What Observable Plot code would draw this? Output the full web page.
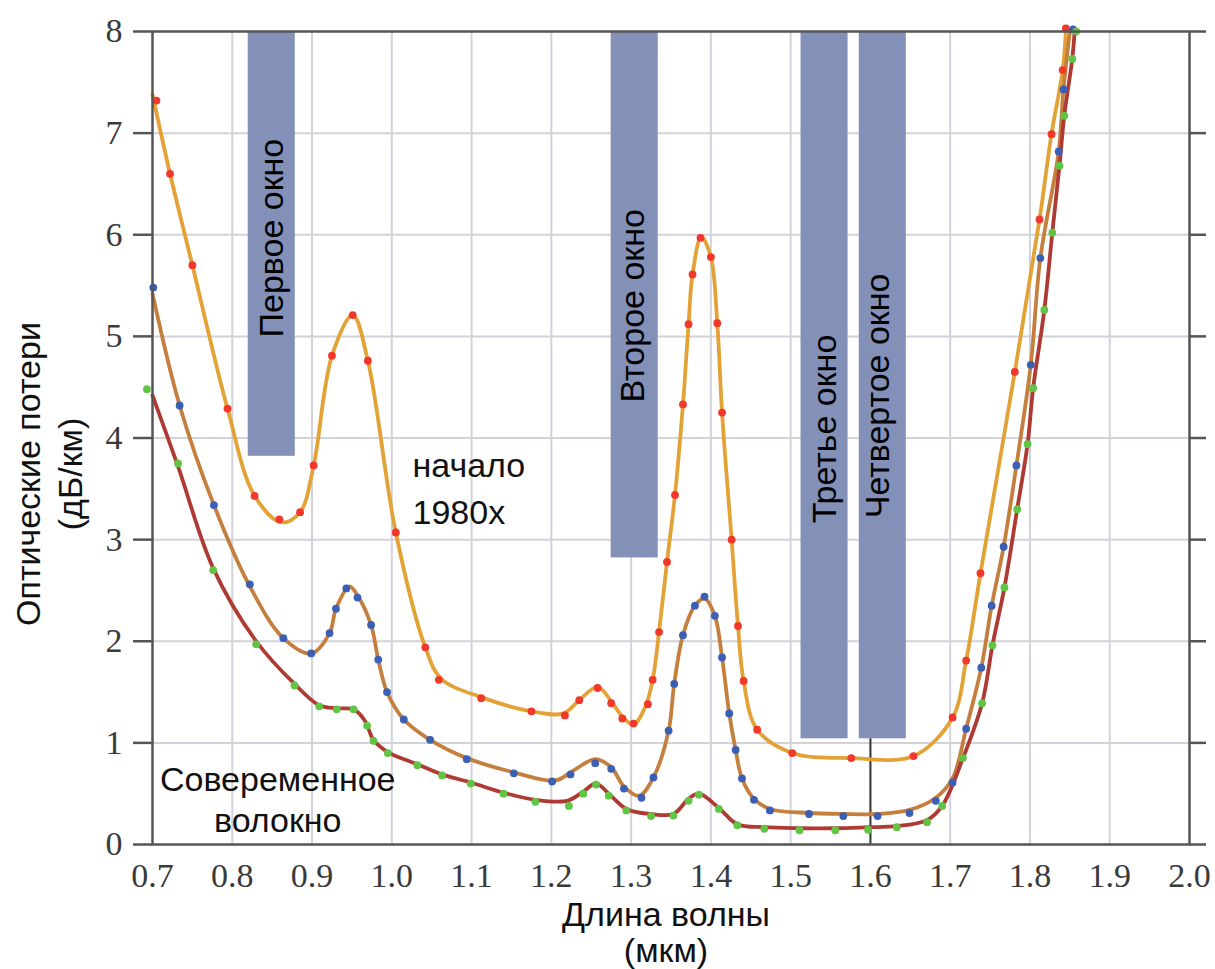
<!DOCTYPE html>
<html>
<head>
<meta charset="utf-8">
<script src="https://cdn.jsdelivr.net/npm/d3@7"></script>
<script src="https://cdn.jsdelivr.net/npm/@observablehq/plot@0.6"></script>
<style>
  html, body { margin: 0; padding: 0; background: #fff; }
</style>
</head>
<body>
<div id="chart"></div>
<script>
// ---- Data (wavelength in µm, loss in dB/km) ----
// Early 1980s fibre: measured points (red dots)
const earlyDots = [
  [0.705,7.32],[0.722,6.60],[0.750,5.70],[0.794,4.29],[0.828,3.43],[0.859,3.20],[0.885,3.27],
  [0.902,3.73],[0.925,4.81],[0.951,5.21],[0.970,4.76],[1.005,3.07],[1.042,1.94],[1.059,1.62],
  [1.112,1.44],[1.175,1.31],[1.217,1.27],[1.235,1.42],[1.258,1.54],[1.275,1.39],[1.289,1.24],
  [1.303,1.19],[1.321,1.38],[1.327,1.62],[1.335,2.09],[1.345,2.78],[1.355,3.44],[1.365,4.33],
  [1.372,5.12],[1.377,5.61],[1.387,5.97],[1.400,5.78],[1.408,5.13],[1.414,4.25],[1.426,3.00],
  [1.434,2.15],[1.441,1.61],[1.458,1.13],[1.502,0.90],[1.576,0.85],[1.654,0.87],[1.703,1.25],
  [1.720,1.81],[1.738,2.67],[1.781,4.65],[1.812,6.15],[1.827,6.99],[1.841,7.62],[1.845,8.03]
];
// Early 1980s fibre: fitted curve
const earlyCurve = [
  [0.700,7.38],[0.722,6.60],[0.750,5.70],[0.794,4.29],[0.828,3.43],[0.862,3.17],[0.885,3.27],
  [0.902,3.73],[0.925,4.81],[0.951,5.21],[0.970,4.76],[1.005,3.07],[1.042,1.94],[1.062,1.63],
  [1.112,1.45],[1.175,1.31],[1.215,1.29],[1.235,1.42],[1.258,1.55],[1.275,1.41],[1.289,1.26],
  [1.303,1.18],[1.318,1.36],[1.327,1.62],[1.335,2.09],[1.345,2.78],[1.355,3.44],[1.365,4.33],
  [1.372,5.12],[1.377,5.61],[1.388,5.98],[1.400,5.78],[1.408,5.13],[1.414,4.25],[1.426,3.00],
  [1.434,2.15],[1.441,1.61],[1.458,1.13],[1.502,0.90],[1.576,0.85],[1.654,0.87],[1.703,1.25],
  [1.720,1.81],[1.738,2.67],[1.781,4.65],[1.812,6.15],[1.827,6.99],[1.841,7.62],[1.845,8.00]
];
// Intermediate fibre: measured points (blue dots)
const midDots = [
  [0.701,5.48],[0.734,4.32],[0.777,3.34],[0.822,2.56],[0.864,2.03],[0.899,1.88],[0.922,2.08],
  [0.930,2.32],[0.943,2.52],[0.957,2.43],[0.974,2.16],[0.983,1.82],[0.994,1.50],[1.015,1.23],
  [1.048,1.03],[1.094,0.84],[1.153,0.70],[1.201,0.62],[1.224,0.69],[1.255,0.80],[1.275,0.745],
  [1.291,0.55],[1.313,0.46],[1.328,0.66],[1.347,1.12],[1.354,1.58],[1.365,2.06],[1.380,2.35],
  [1.392,2.44],[1.405,2.25],[1.414,1.84],[1.423,1.29],[1.431,0.93],[1.439,0.65],[1.454,0.44],
  [1.474,0.335],[1.523,0.30],[1.566,0.28],[1.609,0.28],[1.649,0.31],[1.682,0.43],[1.703,0.61],
  [1.720,1.14],[1.739,1.74],[1.752,2.35],[1.767,2.93],[1.783,3.73],[1.801,4.72],[1.813,5.77],
  [1.836,6.82],[1.842,7.43],[1.854,8.02]
];
const midCurve = [
  [0.700,5.42],[0.734,4.32],[0.777,3.34],[0.822,2.54],[0.864,2.03],[0.899,1.88],[0.922,2.08],
  [0.930,2.32],[0.947,2.54],[0.957,2.45],[0.974,2.16],[0.983,1.82],[0.994,1.50],[1.015,1.23],
  [1.048,1.03],[1.094,0.85],[1.153,0.71],[1.205,0.63],[1.228,0.73],[1.255,0.84],[1.275,0.76],
  [1.291,0.57],[1.310,0.48],[1.328,0.66],[1.347,1.12],[1.354,1.58],[1.365,2.06],[1.380,2.35],
  [1.392,2.42],[1.405,2.25],[1.414,1.84],[1.423,1.29],[1.431,0.93],[1.439,0.65],[1.454,0.45],
  [1.474,0.35],[1.523,0.31],[1.566,0.30],[1.609,0.30],[1.649,0.34],[1.682,0.46],[1.703,0.65],
  [1.720,1.14],[1.739,1.74],[1.752,2.35],[1.767,2.93],[1.783,3.73],[1.801,4.72],[1.813,5.77],
  [1.836,6.82],[1.842,7.43],[1.850,8.00]
];
// Modern fibre: measured points (green dots)
const modernDots = [
  [0.693,4.48],[0.732,3.75],[0.776,2.70],[0.830,1.97],[0.878,1.565],[0.909,1.36],[0.931,1.33],
  [0.952,1.33],[0.969,1.17],[0.977,1.02],[0.995,0.90],[1.032,0.78],[1.063,0.68],[1.099,0.60],
  [1.140,0.50],[1.180,0.42],[1.222,0.38],[1.240,0.50],[1.256,0.59],[1.272,0.48],[1.294,0.335],
  [1.325,0.28],[1.353,0.285],[1.372,0.43],[1.385,0.49],[1.410,0.35],[1.433,0.19],[1.467,0.155],
  [1.511,0.14],[1.556,0.14],[1.597,0.145],[1.633,0.17],[1.671,0.22],[1.690,0.38],[1.716,0.85],
  [1.740,1.39],[1.753,1.96],[1.768,2.53],[1.784,3.30],[1.797,3.94],[1.804,4.49],[1.818,5.26],
  [1.828,6.02],[1.837,6.68],[1.843,7.17],[1.853,7.73],[1.858,8.00]
];
const modernCurve = [
  [0.700,4.42],[0.732,3.72],[0.776,2.72],[0.830,2.00],[0.878,1.58],[0.909,1.37],[0.931,1.34],
  [0.952,1.33],[0.966,1.22],[0.977,1.03],[0.995,0.91],[1.032,0.79],[1.063,0.69],[1.099,0.61],
  [1.140,0.51],[1.180,0.44],[1.220,0.43],[1.240,0.52],[1.256,0.60],[1.272,0.50],[1.294,0.35],
  [1.325,0.30],[1.353,0.30],[1.372,0.45],[1.385,0.50],[1.410,0.36],[1.433,0.20],[1.467,0.17],
  [1.511,0.16],[1.556,0.16],[1.597,0.17],[1.633,0.18],[1.671,0.24],[1.690,0.38],[1.716,0.85],
  [1.740,1.39],[1.753,1.96],[1.768,2.53],[1.784,3.30],[1.797,3.94],[1.804,4.49],[1.818,5.26],
  [1.828,6.02],[1.837,6.68],[1.843,7.17],[1.853,7.73],[1.856,8.00]
];

// Transmission windows (wavelength range, loss range covered by the band)
const windowNames = ["Первое окно", "Второе окно", "Третье окно", "Четвертое окно"];
const windowStart = [0.820, 1.275, 1.513, 1.586];
const windowEnd   = [0.879, 1.334, 1.572, 1.645];
const windowLow   = [3.82, 2.82, 1.04, 1.04];
const windowHigh  = [8, 8, 8, 8];
const windowLabelX = [0.850, 1.302, 1.543, 1.610];
const windowLabelY = [4.99, 4.35, 3.16, 3.21];

// Marker at 1.6 µm below the fourth window
const markerX = [1.6];
const markerLow = [0];
const markerHigh = [1.04];

// Ticks
const xTicks = [0.7,0.8,0.9,1.0,1.1,1.2,1.3,1.4,1.5,1.6,1.7,1.8,1.9,2.0];
const yTicks = [0,1,2,3,4,5,6,7,8];

// Text
const yTitle = ["Оптические потери\n(дБ/км)"];
const xTitle = ["Длина волны\n(мкм)"];
const earlyLabel = [{text: "начало\n1980х", x: 1.026, y: 3.94}];
const modernLabel = [{text: "Совеременное\nволокно", x: 0.857, y: 0.81}];

// ---- Build ----
const windows = windowNames.map((name, i) => ({
  name, x1: windowStart[i], x2: windowEnd[i], y1: windowLow[i], y2: windowHigh[i],
  lx: windowLabelX[i], ly: windowLabelY[i]
}));
const markers = markerX.map((x, i) => ({x, y1: markerLow[i], y2: markerHigh[i]}));
const pt = arr => arr.map(([x, y]) => ({x, y}));

const SANS = "'Liberation Sans', Arial, Helvetica, sans-serif";
const SERIF = "'Liberation Serif', 'Times New Roman', serif";
const gridStyle = {stroke: "#d2d2da", strokeOpacity: 1, strokeWidth: 2};

const chart = Plot.plot({
  width: 1215,
  height: 969,
  marginLeft: 152,
  marginRight: 26,
  marginTop: 31,
  marginBottom: 125,
  x: {domain: [0.7, 2.0]},
  y: {domain: [0, 8]},
  style: {background: "#fff", overflow: "visible"},
  marks: [
    Plot.gridX(xTicks.slice(1, -1), gridStyle),
    Plot.gridY(yTicks.slice(1, -1), gridStyle),
    Plot.rect(windows, {x1: "x1", x2: "x2", y1: "y1", y2: "y2", fill: "#8391b9"}),
    Plot.ruleX(markers, {x: "x", y1: "y1", y2: "y2", stroke: "#3a3a3a", strokeWidth: 2}),
    Plot.text(windows, {
      x: "lx", y: "ly", text: "name", rotate: -90, textAnchor: "start", lineAnchor: "middle",
      fontSize: 34, fontFamily: SANS, fill: "#000"
    }),
    Plot.line(pt(earlyCurve), {x: "x", y: "y", curve: "catmull-rom", stroke: "#e3a236", strokeWidth: 3.8}),
    Plot.line(pt(midCurve), {x: "x", y: "y", curve: "catmull-rom", stroke: "#c47f3e", strokeWidth: 3.8}),
    Plot.line(pt(modernCurve), {x: "x", y: "y", curve: "catmull-rom", stroke: "#ae3a33", strokeWidth: 3.8}),
    Plot.dot(pt(earlyDots), {x: "x", y: "y", r: 3.9, fill: "#f2382a"}),
    Plot.dot(pt(midDots), {x: "x", y: "y", r: 3.9, fill: "#3c5fb6"}),
    Plot.dot(pt(modernDots), {x: "x", y: "y", r: 3.9, fill: "#62c445"}),
    Plot.text(earlyLabel, {
      x: "x", y: "y", text: "text", textAnchor: "start", lineAnchor: "top", lineHeight: 1.38,
      fontSize: 34, fontFamily: SANS, fill: "#111"
    }),
    Plot.text(modernLabel, {
      x: "x", y: "y", text: "text", textAnchor: "middle", lineAnchor: "top", lineHeight: 1.2,
      fontSize: 34, fontFamily: SANS, fill: "#111"
    }),
    Plot.frame({stroke: "#555", strokeWidth: 2.5}),
    Plot.axisY(yTicks, {
      anchor: "left", tickSize: 19, tickPadding: 11, strokeWidth: 2.5, stroke: "#555",
      fill: "#3a3a3a", fontSize: 34, fontFamily: SERIF, label: null, tickFormat: d => String(d)
    }),
    Plot.axisY(yTicks, {
      anchor: "right", tickSize: 16, strokeWidth: 2.5, stroke: "#555", label: null, tickFormat: () => ""
    }),
    Plot.axisX(xTicks, {
      anchor: "bottom", tickSize: 0, tickPadding: 18, fill: "#3a3a3a", fontSize: 34, fontFamily: SERIF,
      label: null, tickFormat: d => d.toFixed(1)
    }),
    Plot.text(yTitle, {
      frameAnchor: "left", text: d => d, rotate: -90, textAnchor: "middle", lineAnchor: "middle",
      lineHeight: 1.24, dx: -105, dy: 36, fontSize: 34, fontFamily: SANS, fill: "#111"
    }),
    Plot.text(xTitle, {
      frameAnchor: "bottom", text: d => d, textAnchor: "middle", lineAnchor: "top",
      lineHeight: 1.08, dx: -5, dy: 55, fontSize: 34, fontFamily: SANS, fill: "#111"
    })
  ]
});
document.getElementById("chart").appendChild(chart);
</script>
</body>
</html>
